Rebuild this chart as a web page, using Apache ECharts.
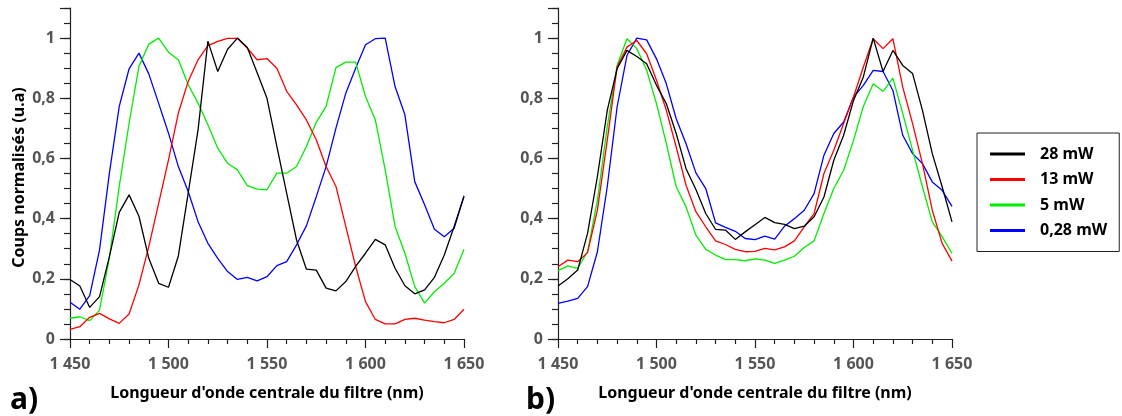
<!DOCTYPE html>
<html>
<head>
<meta charset="utf-8">
<script src="https://cdn.jsdelivr.net/npm/echarts@6/dist/echarts.min.js"></script>
<style>
html,body{margin:0;padding:0;background:#fff;}
#chart{width:1122px;height:416px;}
</style>
</head>
<body>
<div id="chart"></div>
<script>
// Wavelengths (nm), 5 nm steps
const wavelengths = [1450,1455,1460,1465,1470,1475,1480,1485,1490,1495,1500,1505,1510,1515,1520,1525,1530,1535,1540,1545,1550,1555,1560,1565,1570,1575,1580,1585,1590,1595,1600,1605,1610,1615,1620,1625,1630,1635,1640,1645,1650];
const seriesNames = ['28 mW','13 mW','5 mW','0,28 mW'];
const xTickValues = [1450,1500,1550,1600,1650];
const yTickValues = [0,0.2,0.4,0.6,0.8,1];

// Panel a)
const a_28mW = [0.198,0.176,0.105,0.141,0.274,0.421,0.479,0.408,0.268,0.185,0.172,0.276,0.485,0.695,0.99,0.889,0.963,1.0,0.969,0.885,0.80,0.64,0.484,0.329,0.232,0.229,0.169,0.160,0.191,0.241,0.285,0.331,0.313,0.235,0.177,0.150,0.163,0.205,0.279,0.374,0.473];
const a_13mW = [0.032,0.041,0.072,0.085,0.067,0.052,0.083,0.180,0.307,0.451,0.595,0.751,0.856,0.928,0.975,0.989,0.999,0.999,0.967,0.928,0.932,0.900,0.823,0.778,0.728,0.662,0.573,0.507,0.374,0.241,0.124,0.065,0.050,0.050,0.065,0.069,0.063,0.058,0.054,0.065,0.099];
const a_5mW = [0.069,0.074,0.061,0.096,0.27,0.507,0.717,0.906,0.980,1.0,0.953,0.928,0.845,0.784,0.712,0.634,0.584,0.562,0.510,0.498,0.496,0.551,0.551,0.573,0.64,0.72,0.773,0.902,0.920,0.920,0.806,0.728,0.562,0.374,0.285,0.174,0.119,0.157,0.185,0.218,0.298];
const a_028mW = [0.122,0.099,0.144,0.296,0.551,0.773,0.898,0.950,0.881,0.783,0.684,0.573,0.490,0.390,0.318,0.268,0.224,0.198,0.205,0.193,0.207,0.244,0.257,0.313,0.376,0.473,0.573,0.701,0.817,0.900,0.978,0.998,1.0,0.839,0.745,0.523,0.446,0.365,0.340,0.368,0.476];

// Panel b)
const b_28mW = [0.176,0.20,0.229,0.351,0.54,0.76,0.898,0.959,0.939,0.915,0.843,0.782,0.683,0.566,0.497,0.417,0.364,0.362,0.331,0.356,0.38,0.404,0.387,0.381,0.367,0.375,0.406,0.472,0.594,0.677,0.793,0.871,1.0,0.889,0.959,0.909,0.882,0.760,0.616,0.506,0.389];
const b_13mW = [0.240,0.262,0.257,0.287,0.428,0.660,0.904,0.970,0.992,0.948,0.860,0.760,0.638,0.511,0.423,0.373,0.326,0.314,0.298,0.290,0.291,0.301,0.296,0.306,0.326,0.373,0.417,0.550,0.627,0.716,0.804,0.904,0.998,0.965,0.998,0.837,0.716,0.583,0.428,0.318,0.259];
const b_5mW = [0.227,0.243,0.235,0.29,0.461,0.705,0.909,0.998,0.965,0.893,0.782,0.649,0.506,0.439,0.345,0.298,0.279,0.264,0.264,0.260,0.266,0.262,0.251,0.262,0.275,0.304,0.326,0.417,0.500,0.561,0.660,0.773,0.848,0.823,0.867,0.749,0.627,0.506,0.389,0.340,0.284];
const b_028mW = [0.118,0.126,0.135,0.174,0.290,0.506,0.771,0.942,1.0,0.994,0.931,0.848,0.732,0.649,0.552,0.500,0.386,0.371,0.358,0.334,0.330,0.342,0.332,0.375,0.400,0.428,0.483,0.611,0.683,0.721,0.804,0.843,0.893,0.889,0.826,0.677,0.616,0.583,0.522,0.494,0.441];

const colors = ['#000000','#ff0000','#00ee00','#0000ff'];
const FONT = '"Noto Sans", "Open Sans", sans-serif';

function pairs(arr){ return wavelengths.map((w,i)=>[w,arr[i]]); }
function fmtX(v){ return String(v).replace(/\B(?=(\d{3})+(?!\d))/g,' '); }
function fmtY(v){
  const r = Math.round(v*10)/10;
  if (!yTickValues.some(t=>Math.abs(t-v)<1e-6)) return '';
  return String(r).replace('.',',');
}

const grids = [
  {left:70, top:8, width:394, height:331},
  {left:558, top:8, width:394, height:331}
];

function xAxis(gi){
  return {
    type:'value', gridIndex:gi, min:xTickValues[0], max:xTickValues[xTickValues.length-1], interval:50,
    axisLine:{show:true, onZero:false, lineStyle:{color:'#222', width:1.2}},
    axisTick:{show:true, length:9, lineStyle:{color:'#222', width:1.2}},
    minorTick:{show:true, splitNumber:5, length:5, lineStyle:{color:'#222', width:1.2}},
    splitLine:{show:false},
    axisLabel:{formatter:fmtX, margin:17, color:'#555', fontSize:16, fontWeight:'bold', fontFamily:FONT},
    name:"Longueur d'onde centrale du filtre (nm)", nameLocation:'middle', nameGap:46,
    nameTextStyle:{color:'#000', fontSize:16, fontWeight:'bold', fontFamily:FONT}
  };
}
function yAxisMain(gi, withName){
  const ax = {
    type:'value', gridIndex:gi, position:'left', min:0, max:1.1, interval:0.2,
    axisLine:{show:true, lineStyle:{color:'#222', width:1.2}},
    axisTick:{show:true, length:10, lineStyle:{color:'#222', width:1.2}},
    splitLine:{show:false},
    axisLabel:{formatter:fmtY, margin:15, color:'#555', fontSize:16, fontWeight:'bold', fontFamily:FONT}
  };
  if (withName){
    ax.name = 'Coups normalisés (u.a)';
    ax.nameLocation = 'middle';
    ax.nameGap = 43;
    ax.nameTextStyle = {color:'#000', fontSize:16, fontWeight:'bold', fontFamily:FONT, padding:[0,0,0,-8]};
  }
  return ax;
}
function yAxisMinor(gi){
  return {
    type:'value', gridIndex:gi, position:'left', min:0, max:1.1, interval:0.05,
    axisLine:{show:false}, axisLabel:{show:false}, splitLine:{show:false},
    axisTick:{show:true, length:6, lineStyle:{color:'#222', width:1.2}}
  };
}

const dataA = [a_28mW, a_13mW, a_5mW, a_028mW];
const dataB = [b_28mW, b_13mW, b_5mW, b_028mW];
const series = [];
[dataA, dataB].forEach((set, gi)=>{
  set.forEach((arr, i)=>{
    series.push({
      type:'line', name:seriesNames[i], xAxisIndex:gi, yAxisIndex:gi*2,
      data:pairs(arr), symbol:'none', smooth:false, animation:false,
      lineStyle:{color:colors[i], width:1.3}, itemStyle:{color:colors[i]}, z:10-i
    });
  });
});

const chart = echarts.init(document.getElementById('chart'), null, {renderer:'canvas'});
chart.setOption({
  backgroundColor:'#fff',
  animation:false,
  grid:grids,
  xAxis:[xAxis(0), xAxis(1)],
  yAxis:[yAxisMain(0,true), yAxisMinor(0), yAxisMain(1,false), yAxisMinor(1)],
  legend:{
    orient:'vertical', left:977, top:133, data:seriesNames,
    itemWidth:35, itemHeight:3, itemGap:9.5,
    padding:[13,12,13,13],
    borderColor:'#222', borderWidth:1,
    icon:'rect',
    itemStyle:{borderWidth:0},
    textStyle:{color:'#000', fontSize:16, lineHeight:14, fontWeight:'bold', fontFamily:FONT, padding:[0,0,0,10]},
    selectedMode:false
  },
  graphic:[
    {type:'text', left:10, top:385, style:{text:'a)', font:'bold 30px "Noto Sans", sans-serif', fill:'#000'}},
    {type:'text', left:526, top:385, style:{text:'b)', font:'bold 30px "Noto Sans", sans-serif', fill:'#000'}}
  ],
  series:series
});
</script>
</body>
</html>
